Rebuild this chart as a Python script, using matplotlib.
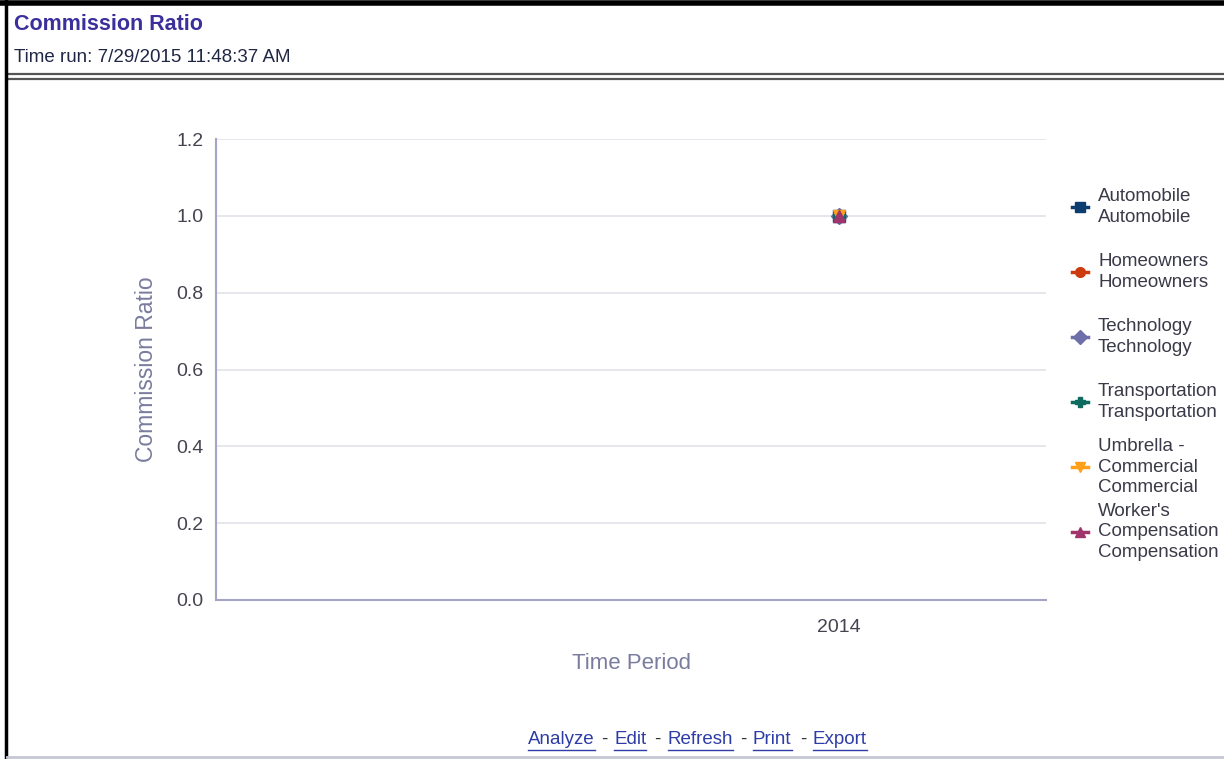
import matplotlib
matplotlib.use("Agg")
import matplotlib.pyplot as plt
from matplotlib.lines import Line2D

plt.rcParams['font.family'] = ['Liberation Sans', 'DejaVu Sans']

# data
periods = ['', '2014']
series_names = ['Automobile\nAutomobile', 'Homeowners\nHomeowners', 'Technology\nTechnology',
                'Transportation\nTransportation', 'Umbrella -\nCommercial\nCommercial',
                "Worker's\nCompensation\nCompensation"]
series_values = [
    [None, 1.0],
    [None, 1.0],
    [None, 1.0],
    [None, 1.0],
    [None, 1.0],
    [None, 1.0],
]
colors = ['#0d3d6e', '#cc3a0e', '#6e6ea8', '#0e6b60', '#ff9f1a', '#a0346c']
markers = ['s', 'o', 'D', 'P', 'v', '^']
y_ticks = [0.0, 0.2, 0.4, 0.6, 0.8, 1.0, 1.2]

W, H = 1224, 759
fig = plt.figure(figsize=(W / 100, H / 100), dpi=100)


def fx(px):
    return px / W


def fy(py):
    return 1 - py / H


# header
fig.text(fx(14), fy(25), 'Commission Ratio', fontsize=15.5, fontweight='bold',
         color='#3b2f9c', va='center')
fig.text(fx(14), fy(57), 'Time run: 7/29/2015 11:48:37 AM', fontsize=13.5,
         color='#1f2744', va='center')
for yy in (73.5, 78.5):
    fig.add_artist(Line2D([fx(7), 1], [fy(yy), fy(yy)], color='#555555', lw=1.6))
fig.add_artist(Line2D([fx(1), 1], [fy(3), fy(3)], color='black', lw=4))
fig.add_artist(Line2D([fx(6), fx(6)], [0, 1], color='black', lw=2.5))
fig.add_artist(Line2D([fx(7), 1], [fy(757), fy(757)], color='#c5c8d4', lw=2))

# chart
ax = fig.add_axes([fx(216), fy(600), fx(1046) - fx(216), fy(139) - fy(600)])
x = list(range(len(periods)))
for name, vals, c, m in zip(series_names, series_values, colors, markers):
    xs = [xi for xi, v in zip(x, vals) if v is not None]
    ys = [v for v in vals if v is not None]
    ax.plot(xs, ys, color=c, marker=m, markersize=8, lw=2, label=name)

ax.set_xlim(-0.5, 1.5)
ax.set_ylim(0, 1.2)
ax.set_yticks(y_ticks)
ax.set_yticklabels([f'{v:.1f}' for v in y_ticks])
ax.set_xticks([1])
ax.set_xticklabels([periods[1]])
ax.tick_params(length=0, labelsize=14, labelcolor='#444450', pad=9)
ax.tick_params(axis='x', pad=14)
ax.grid(axis='y', color='#e4e4ec', lw=1.3)
ax.set_axisbelow(True)
for s in ('top', 'right'):
    ax.spines[s].set_visible(False)
for s in ('left', 'bottom'):
    ax.spines[s].set_color('#a4a4c6')
    ax.spines[s].set_linewidth(1.5)
ax.set_ylabel('Commission Ratio', fontsize=16.5, color='#7a7c9e', labelpad=13)
ax.set_xlabel('Time Period', fontsize=16, color='#7a7c9e', labelpad=12)

# legend, placed by hand to mimic the tight spacing
for i, (name, c, m) in enumerate(zip(series_names, colors, markers)):
    yc = 207 + 65 * i
    fig.add_artist(Line2D([fx(1072), fx(1088)], [fy(yc), fy(yc)], color=c, lw=2.5))
    fig.add_artist(Line2D([fx(1080)], [fy(yc)], color=c, marker=m, markersize=7, lw=0))
    fig.text(fx(1098), fy(yc), name, fontsize=13.5, color='#3a3a48', va='center',
             linespacing=1.25)

# footer links
links = [('Analyze', 528), ('Edit', 614), ('Refresh', 668), ('Print', 753), ('Export', 813)]
dashes = [601, 654, 740, 800]
fig.canvas.draw()
renderer = fig.canvas.get_renderer()
for word, px in links:
    t = fig.text(fx(px), fy(739), word, fontsize=13.5, color='#2e3da6', va='center')
    bb = t.get_window_extent(renderer)
    fig.add_artist(Line2D([bb.x0 / W, bb.x1 / W], [fy(750), fy(750)], color='#2e3da6', lw=1))
for px in dashes:
    fig.text(fx(px), fy(739), '-', fontsize=13.5, color='#333333', va='center')

fig.savefig('out.png', dpi=100)
